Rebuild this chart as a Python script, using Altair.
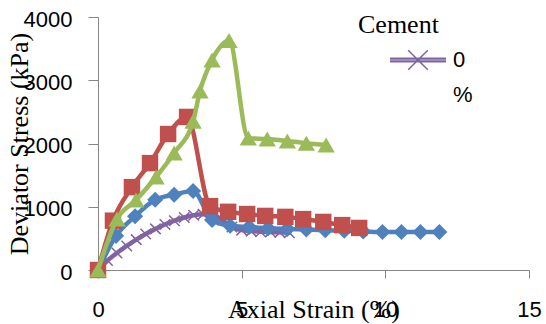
import altair as alt
import pandas as pd

# Axial strain (%) and deviator stress (kPa) for each mix
strain_blue = [0, 0.63, 1.29, 1.99, 2.65, 3.31, 3.97, 4.60, 5.26, 5.92, 6.59, 7.25, 7.91, 8.57, 9.23, 9.90, 10.56, 11.22, 11.88]
stress_blue = [0, 540, 850, 1110, 1190, 1250, 790, 700, 680, 660, 650, 640, 630, 620, 610, 600, 600, 600, 600]

strain_red = [0, 0.52, 1.18, 1.81, 2.44, 3.10, 3.90, 4.53, 5.19, 5.82, 6.52, 7.14, 7.84, 8.50, 9.09]
stress_red = [0, 780, 1310, 1690, 2150, 2420, 1010, 920, 885, 855, 840, 805, 760, 710, 665]

strain_green = [0, 0.66, 1.32, 2.02, 2.65, 3.31, 3.55, 3.97, 4.56, 5.23, 5.89, 6.59, 7.25, 7.94]
stress_green = [0, 805, 1105, 1470, 1850, 2350, 2830, 3320, 3630, 2085, 2070, 2040, 2005, 1975]

strain_purple = [0, 0.33, 0.66, 1.0, 1.33, 1.66, 2.0, 2.33, 2.66, 3.0, 3.33, 3.66, 4.0, 4.33, 4.66, 5.0, 5.33, 5.66, 6.0, 6.33, 6.66]
stress_purple = [0, 150, 270, 380, 480, 570, 650, 720, 780, 830, 865, 880, 870, 790, 680, 630, 615, 605, 600, 595, 590]

cement_label = "0 %"

BLUE, RED, GREEN, PURPLE = "#4F81BD", "#C0504D", "#9BBB59", "#8064A2"
X_MARK = "M-1,-1L1,1M-1,1L1,-1"
# legend swatch: a thick line (three close strokes) crossed by an X
LEGEND_SWATCH = "M-1,-0.06L1,-0.06M-1,0L1,0M-1,0.06L1,0.06M-0.35,-0.35L0.35,0.35M-0.35,0.35L0.35,-0.35"

x_scale = alt.Scale(domain=[0, 15], nice=False, zero=False)
y_scale = alt.Scale(domain=[0, 4000], nice=False)

x_axis = alt.Axis(
    title="Axial Strain (%)", values=[0, 5, 10, 15], format="d",
    tickSize=8, labelPadding=31, labelBaseline="middle", labelFlush=False,
    titleY=39, titleBaseline="middle",
)
y_axis = alt.Axis(
    title="Deviator Stress (kPa)", values=[0, 1000, 2000, 3000, 4000], format="d",
    tickSize=10, labelPadding=16, labelOffset=2, labelFlush=False,
    titleX=-79, titleY=126.5, titleAngle=-90, titleBaseline="middle",
)


def frame(x, y):
    return pd.DataFrame({"strain": x, "stress": y})


def base(df):
    return alt.Chart(df).encode(
        x=alt.X("strain:Q", scale=x_scale, axis=x_axis),
        y=alt.Y("stress:Q", scale=y_scale, axis=y_axis),
    )


def curve(df, color):
    return base(df).mark_line(
        color=color, strokeWidth=4.5, interpolate="monotone",
        strokeCap="round", strokeJoin="round",
    )


def markers(df, color, shape, size):
    return base(df).mark_point(
        shape=shape, size=size, filled=True, color=color, opacity=1, strokeWidth=0,
    )


df_p = frame(strain_purple, stress_purple).assign(cement=cement_label)
df_b = frame(strain_blue, stress_blue)
df_r = frame(strain_red, stress_red)
df_g = frame(strain_green, stress_green)

purple_pts = base(df_p).mark_point(
    shape=X_MARK, size=110, filled=False, strokeWidth=1.5, opacity=1,
).encode(
    color=alt.Color(
        "cement:N",
        scale=alt.Scale(domain=[cement_label], range=[PURPLE]),
        legend=alt.Legend(
            title="Cement", orient="none", legendX=260, legendY=-5, padding=0,
            titleFont="Liberation Serif", titleFontSize=26, titleFontWeight="normal",
            titleColor="black", titlePadding=-7,
            labelFont="Liberation Sans", labelFontSize=22, labelColor="black",
            labelExpr="split(datum.label, ' ')",
            symbolType=LEGEND_SWATCH, symbolSize=3136, symbolStrokeWidth=1.5,
            symbolOffset=31, labelOffset=6,
        ),
    )
)

chart = alt.layer(
    curve(df_p, PURPLE), purple_pts,
    curve(df_b, BLUE), markers(df_b, BLUE, "diamond", 260),
    curve(df_r, RED), markers(df_r, RED, "square", 270),
    curve(df_g, GREEN), markers(df_g, GREEN, "triangle-up", 300),
).properties(
    width=431, height=253,
    autosize=alt.AutoSizeParams(type="none"),
    padding={"left": 98, "top": 17, "right": 17, "bottom": 54},
).configure(
    style={"guide-label": {"lineHeight": 35}}
).configure_view(
    stroke=None
).configure_axis(
    grid=False, domainColor="#868686", tickColor="#868686",
    labelFont="Liberation Sans", labelFontSize=22, labelColor="black",
    titleFont="Liberation Serif", titleFontSize=26, titleFontWeight="normal", titleColor="black",
)

chart.save("out.html", embed_options={"renderer": "svg", "actions": False})
